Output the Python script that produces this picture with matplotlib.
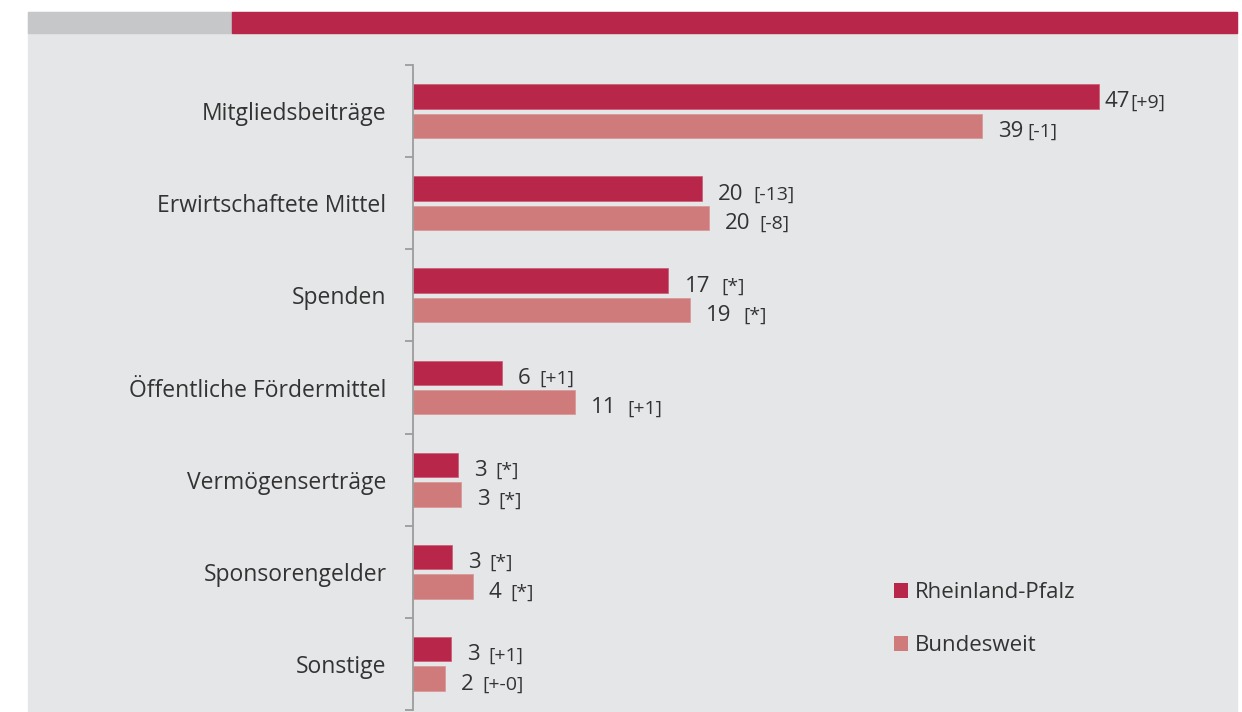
import numpy as np
import matplotlib.pyplot as plt
from matplotlib.patches import Rectangle, Patch

plt.rcParams['font.family'] = ['Open Sans', 'DejaVu Sans']

categories = ['Mitgliedsbeiträge', 'Erwirtschaftete Mittel', 'Spenden',
              'Öffentliche Fördermittel', 'Vermögenserträge', 'Sponsorengelder',
              'Sonstige']
rlp = [47.0, 19.8, 17.5, 6.1, 3.1, 2.7, 2.6]
bund = [39.0, 20.3, 19.0, 11.1, 3.3, 4.1, 2.2]
rlp_num = ['47', '20', '17', '6', '3', '3', '3']
rlp_diff = ['[+9]', '[-13]', '[*]', '[+1]', '[*]', '[*]', '[+1]']
bund_num = ['39', '20', '19', '11', '3', '4', '2']
bund_diff = ['[-1]', '[-8]', '[*]', '[+1]', '[*]', '[*]', '[+-0]']

red = '#b8274a'
pink = '#cf7b7b'
txt = '#333333'

fig = plt.figure(figsize=(12.42, 7.12), dpi=100)
fig.patches.append(Rectangle((28/1242, 0), 1209/1242, 1 - 12/712,
                             transform=fig.transFigure, color='#e5e6e8', zorder=-2))
fig.patches.append(Rectangle((28/1242, 1 - 33/712), 204/1242, 21/712,
                             transform=fig.transFigure, color='#c6c7c9', zorder=-1))
fig.patches.append(Rectangle((232/1242, 1 - 33/712), 1005/1242, 21/712,
                             transform=fig.transFigure, color=red, zorder=-1))

ax = fig.add_axes([413/1242, 2/712, 803/1242, 645/712])
ax.set_facecolor('none')

y = np.arange(len(categories))
h = 0.265
off = 0.16
b1 = ax.barh(y - off, rlp, height=h, color=red, edgecolor='#c95a73', linewidth=0.5)
b2 = ax.barh(y + off, bund, height=h, color=pink, edgecolor='#d99494', linewidth=0.5)

ax.set_xlim(0, 55)
ax.set_ylim(6.5, -0.5)

# value labels: big number + smaller bracket
gap_r = [4, 11.5, 11.5, 11.5, 11.5, 11.5, 11.5]
gap_b = [11, 11.5, 11.5, 11.5, 11.5, 11.5, 11.5]
br_r = [0, 7, 8, 6, 6, 6, 6]
br_b = [3, 6, 8, 8, 6, 6, 6]
for vals, nums, diffs, gaps, brs, yy in [(rlp, rlp_num, rlp_diff, gap_r, br_r, y - off),
                                         (bund, bund_num, bund_diff, gap_b, br_b, y + off)]:
    for v, n, d, g, bg, yc in zip(vals, nums, diffs, gaps, brs, yy):
        t = ax.annotate(n, xy=(v, yc), xytext=(g, -8), textcoords='offset points',
                        ha='left', va='baseline', fontsize=16, color=txt)
        ax.annotate(d, xy=(1, yc), xycoords=(t, 'data'), xytext=(bg, -8),
                    textcoords='offset points', ha='left', va='baseline',
                    fontsize=14, color=txt)

for s in ['top', 'right', 'bottom']:
    ax.spines[s].set_visible(False)
ax.spines['left'].set_color('#9c9c9c')
ax.spines['left'].set_linewidth(1.3)
ax.set_xticks([])
ax.set_yticks(y, categories)
ax.tick_params(axis='y', which='major', length=0, pad=19, labelsize=16.5, labelcolor=txt)
ax.set_yticks(np.arange(-0.5, 7, 1), minor=True)
ax.tick_params(axis='y', which='minor', length=6, width=1.3, color='#9c9c9c')

handles = [Patch(facecolor=red, label='Rheinland-Pfalz'),
           Patch(facecolor=pink, label='Bundesweit')]
ax.legend(handles=handles, loc='upper left', bbox_to_anchor=(885/1242, 1 - 573/712),
          bbox_transform=fig.transFigure, frameon=False, fontsize=16,
          handlelength=0.65, handleheight=0.65, handletextpad=0.3,
          labelspacing=1.45, labelcolor=txt, borderaxespad=0)

fig.savefig('out.png', dpi=100)
